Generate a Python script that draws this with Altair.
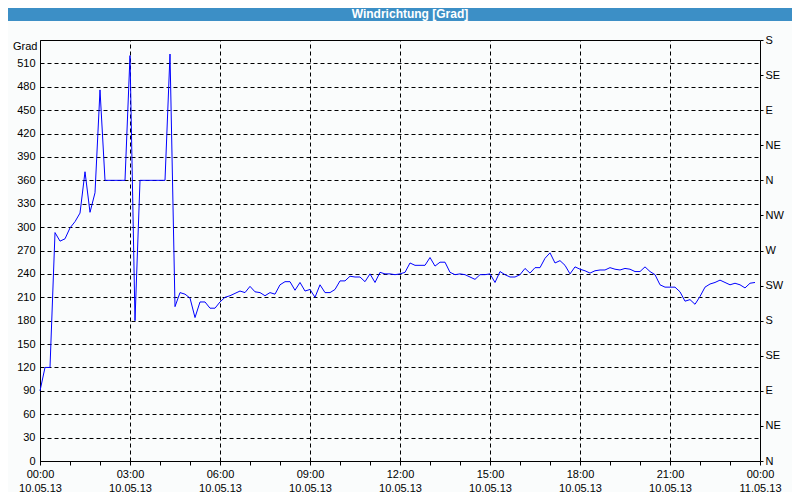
import altair as alt
import pandas as pd

# ---- data (10-minute samples from 00:00) ----
start_minute = 0
step_minutes = 10
deg_values = [
    90, 120, 120, 293, 282, 285, 299, 307, 318, 371, 319, 344,
    476, 360, 360, 360, 360, 360, 520, 180, 360, 360, 360, 360,
    360, 360, 522, 198, 216, 214, 209, 184, 204, 204, 196, 196,
    204, 210, 212, 215, 218, 216, 224, 217, 216, 212, 216, 214,
    226, 230, 230, 219, 229, 218, 220, 210, 226, 216, 216, 220,
    231, 231, 237, 236, 236, 230, 240, 229, 242, 240, 240, 239,
    240, 242, 254, 251, 251, 251, 261, 250, 255, 255, 242, 239,
    240, 239, 236, 233, 239, 239, 240, 229, 243, 239, 236, 236,
    239, 247, 241, 248, 248, 260, 267, 254, 257, 251, 240, 249,
    246, 244, 241, 244, 245, 245, 248, 246, 245, 247, 246, 243,
    243, 249, 243, 239, 226, 223, 223, 223, 217, 205, 207, 201,
    211, 223, 227, 229, 232, 229, 226, 228, 226, 222, 228, 229,
]
minutes = [start_minute + i * step_minutes for i in range(len(deg_values))]

y_tick_values = [0, 30, 60, 90, 120, 150, 180, 210, 240, 270, 300, 330, 360, 390, 420, 450, 480, 510]
compass_values = [0, 45, 90, 135, 180, 225, 270, 315, 360, 405, 450, 495, 540]
compass_labels = ["N", "NE", "E", "SE", "S", "SW", "W", "NW", "N", "NE", "E", "SE", "S"]
hour_ticks = list(range(0, 25))
grid_hours = [3, 6, 9, 12, 15, 18, 21]
x_label_times = ["00:00", "03:00", "06:00", "09:00", "12:00", "15:00", "18:00", "21:00", "00:00"]
x_label_dates = ["10.05.13", "10.05.13", "10.05.13", "10.05.13", "10.05.13",
                 "10.05.13", "10.05.13", "10.05.13", "11.05.13"]

df = pd.DataFrame({"h": [m / 60 for m in minutes], "deg": deg_values})

FONT = "Liberation Sans"
BLUE = "#3c8fc6"
BG = "#fafcfc"

pairs = ",".join("['%s','%s']" % (t, d) for t, d in zip(x_label_times, x_label_dates))
x_label_expr = "datum.value %% 3 == 0 ? [%s][datum.value / 3] : ''" % pairs
compass_expr = "[%s][round(datum.value / 45)]" % ",".join("'%s'" % c for c in compass_labels)

x_scale = alt.Scale(domain=[0, 24], nice=False)
y_scale = alt.Scale(domain=[0, 540], nice=False)

main = alt.Chart(df).mark_line(color="#0000ff", strokeWidth=1).encode(
    x=alt.X("h:Q", scale=x_scale, axis=alt.Axis(
        orient="bottom", values=hour_ticks, grid=False, title=None,
        labelExpr=x_label_expr, labelOverlap=False, labelFlush=False,
        labelBaseline="top", labelLineHeight=14, labelPadding=3,
        tickSize=4, tickColor="black", domainColor="black",
        labelFont=FONT, labelFontSize=11, labelColor="#000")),
    y=alt.Y("deg:Q", scale=y_scale, axis=alt.Axis(
        orient="left", values=y_tick_values, grid=True, gridDash=[4, 3],
        gridColor="black", gridOpacity=1, ticks=False, labelPadding=5,
        domainColor="black", labelFont=FONT, labelFontSize=11, labelColor="#000",
        title="Grad", titleAngle=0, titleAlign="right", titleBaseline="middle",
        titleX=-3, titleY=6, titleFont=FONT, titleFontSize=11,
        titleFontWeight="normal", titleColor="#000")),
)

secondary = alt.Chart(df).mark_line(opacity=0).encode(
    x=alt.X("h:Q", scale=x_scale, axis=alt.Axis(
        orient="top", values=grid_hours, grid=True, gridDash=[4, 3],
        gridColor="black", gridOpacity=1, labels=False, ticks=False,
        domain=False, title=None)),
    y=alt.Y("deg:Q", scale=y_scale, axis=alt.Axis(
        orient="right", values=compass_values, labelExpr=compass_expr,
        grid=False, tickSize=3, tickColor="black", domain=False,
        labelPadding=2, labelFont=FONT, labelFontSize=11, labelColor="#000",
        labelOverlap=False, labelFlush=False, title=None)),
)

one = alt.Data(values=[{"k": 0}])
title_bar = alt.Chart(one).mark_rect(color=BLUE).encode(
    x=alt.value(-45), x2=alt.value(770), y=alt.value(-45), y2=alt.value(-19))
title_text = alt.Chart(one).mark_text(
    text="Windrichtung [Grad]", font=FONT, fontSize=12, fontWeight="bold",
    color="white", align="center", baseline="middle").encode(
    x=alt.value(370), y=alt.value(-26))

chart = alt.layer(title_bar, title_text, secondary, main).resolve_scale(
    x="independent", y="independent").resolve_axis(
    x="independent", y="independent").properties(
    width=720, height=421,
    padding={"left": 32, "top": 32, "right": 32, "bottom": 31},
    autosize=alt.AutoSizeParams(type="none"),
    background=BG,
).configure_view(stroke="black", strokeWidth=1, fill=BG)

chart.save("out.html", embed_options={"renderer": "svg", "actions": False})
